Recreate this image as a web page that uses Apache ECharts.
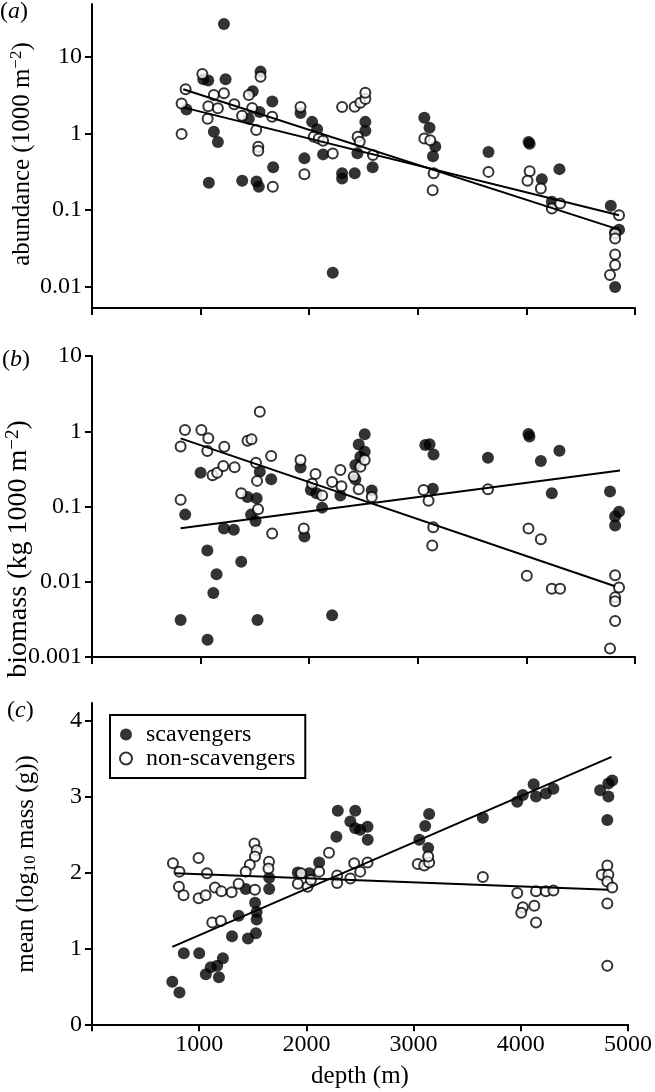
<!DOCTYPE html>
<html>
<head>
<meta charset="utf-8">
<script src="https://cdn.jsdelivr.net/npm/echarts@6.0.0/dist/echarts.min.js"></script>
<style>
html,body{margin:0;padding:0;background:#fff;}
#chart{width:655px;height:1092px;}
</style>
</head>
<body>
<div id="chart"></div>
<script>
// ---- data: [depth (m), value] ----
const abundanceScavengers = [[1215,26.8],[1025,5.1],[1070,4.9],[1230,5.1],[1552,6.4],[1480,3.55],[1660,2.6],[870,2.05],[1122,1.05],[1159,0.77],[1444,1.55],[1543,1.9],[1076,0.226],[1383,0.24],[1515,0.235],[1536,0.20],[1668,0.36],[1956,0.47],[1920,1.84],[2027,1.41],[2073,1.13],[2128,0.53],[2217,0.015],[2303,0.30],[2303,0.257],[2419,0.30],[2584,0.36],[2517,1.41],[2517,1.08],[2444,0.55],[3060,1.6],[3108,1.18],[3161,0.67],[3140,0.50],[3651,0.57],[4020,0.77],[4030,0.73],[4142,0.25],[4304,0.34],[4234,0.127],[4777,0.113],[4853,0.055],[4817,0.051],[4817,0.0098]];
const abundanceNonScavengers = [[1016,5.96],[1552,5.5],[862,3.76],[1122,3.16],[1215,3.33],[1444,3.16],[825,2.46],[1071,2.25],[1159,2.12],[1310,2.39],[1382,1.7],[1475,2.14],[1659,1.64],[1065,1.55],[1512,1.10],[825,0.976],[1531,0.666],[1531,0.59],[1665,0.20],[1920,2.2],[1956,0.292],[2042,0.90],[2088,0.857],[2128,0.80],[2217,0.545],[2303,2.2],[2419,2.22],[2471,2.5],[2517,2.8],[2517,3.38],[2446,0.90],[2465,0.774],[2587,0.52],[3060,0.857],[3115,0.81],[3146,0.30],[3137,0.18],[3651,0.313],[4030,0.32],[4010,0.24],[4133,0.19],[4234,0.104],[4310,0.121],[4853,0.085],[4817,0.049],[4817,0.042],[4817,0.026],[4817,0.019],[4770,0.014]];
const abundanceFitScavengers = [[840,2.18],[4853,0.085]];
const abundanceFitNonScavengers = [[840,3.76],[4853,0.055]];

const biomassScavengers = [[1545,0.29],[1650,0.23],[1920,0.33],[2015,0.166],[1000,0.28],[858,0.078],[1432,0.134],[1516,0.129],[1465,0.078],[1506,0.064],[1215,0.051],[1306,0.049],[1956,0.040],[1062,0.026],[1374,0.0184],[1147,0.0126],[1117,0.0071],[816,0.0031],[1524,0.0031],[1064,0.0017],[2211,0.0036],[2067,0.15],[2119,0.0966],[2287,0.14],[2511,0.91],[2456,0.665],[2511,0.535],[2471,0.46],[2425,0.356],[2425,0.23],[2576,0.163],[3069,0.656],[3108,0.67],[3145,0.49],[3138,0.172],[3646,0.445],[4019,0.92],[4028,0.85],[4133,0.403],[4304,0.55],[4234,0.15],[4770,0.158],[4853,0.085],[4817,0.074],[4817,0.056]];
const biomassNonScavengers = [[1545,1.82],[856,1.04],[1007,1.04],[1071,0.805],[816,0.625],[1062,0.545],[1218,0.623],[1432,0.75],[1469,0.78],[1650,0.47],[1510,0.382],[1520,0.219],[1920,0.415],[2058,0.27],[2027,0.20],[2211,0.212],[2287,0.306],[1110,0.26],[1153,0.28],[1209,0.346],[1313,0.332],[816,0.1225],[1374,0.15],[1529,0.092],[1659,0.0437],[1950,0.051],[2119,0.14],[2297,0.186],[2410,0.25],[2471,0.338],[2511,0.415],[2456,0.17],[2576,0.134],[3053,0.166],[3099,0.119],[3142,0.053],[3133,0.0303],[3646,0.17],[4019,0.051],[4133,0.0368],[4004,0.012],[4234,0.0081],[4310,0.0081],[4817,0.0122],[4853,0.0084],[4817,0.0062],[4817,0.0055],[4817,0.0030],[4770,0.0013]];
const biomassFitScavengers = [[816,0.0515],[4862,0.30]];
const biomassFitNonScavengers = [[816,0.805],[4817,0.0087]];

const massScavengers = [[749,0.56],[816,0.42],[856,0.935],[1000,0.935],[1062,0.66],[1108,0.75],[1168,0.77],[1221,0.87],[1184,0.62],[1306,1.16],[1455,1.13],[1529,1.2],[1368,1.43],[1521,1.6],[1536,1.48],[1536,1.38],[1434,1.78],[1653,1.93],[1653,1.78],[1920,2.0],[2027,1.99],[2119,2.13],[2280,2.47],[2293,2.81],[2456,2.81],[2410,2.67],[2456,2.58],[2502,2.56],[2570,2.6],[2572,2.43],[3053,2.43],[3108,2.61],[3145,2.77],[3136,2.32],[3646,2.72],[3967,2.93],[4019,3.02],[4120,3.16],[4142,3.0],[4234,3.04],[4304,3.1],[4740,3.08],[4817,3.17],[4853,3.21],[4817,3.0],[4807,2.69]];
const massNonScavengers = [[755,2.12],[816,2.01],[994,2.19],[1073,1.99],[811,1.81],[854,1.70],[995,1.66],[1060,1.7],[1147,1.8],[1207,1.75],[1303,1.74],[1368,1.85],[1520,1.77],[1515,2.38],[1536,2.29],[1520,2.21],[1472,2.1],[1434,2.01],[1122,1.34],[1202,1.36],[1651,2.14],[1646,2.05],[1920,1.85],[1950,1.99],[2011,1.81],[2042,1.9],[2119,2.01],[2211,2.26],[2287,1.96],[2287,1.86],[2410,1.92],[2446,2.12],[2502,2.01],[2570,2.13],[3039,2.11],[3099,2.09],[3145,2.13],[3136,2.21],[3646,1.94],[3967,1.73],[4019,1.54],[4004,1.47],[4126,1.56],[4142,1.34],[4142,1.75],[4234,1.75],[4304,1.76],[4807,2.09],[4755,1.97],[4817,1.97],[4807,1.88],[4853,1.8],[4807,1.59],[4807,0.77]];
const massFitScavengers = [[749,1.02],[4846,3.52]];
const massFitNonScavengers = [[771,1.99],[4817,1.77]];

const depthTicks = [0,1000,2000,3000,4000,5000];
const abundanceTicks = [0.01,0.1,1,10];
const biomassTicks = [0.001,0.01,0.1,1,10];
const massTicks = [0,1,2,3,4];
const seriesNames = ['scavengers','non-scavengers'];

// ---- chart ----
const FONT = 'Liberation Serif';
const FS = 24;
const black = '#000';

function fmtLog(v){
  const r = Math.round(Math.log10(v));
  return r >= 0 ? String(Math.pow(10, r)) : Math.pow(10, r).toFixed(-r);
}

function xAxis(gridIndex, showLabels){
  return {
    type:'value', gridIndex, min:depthTicks[0], max:depthTicks[depthTicks.length-1], interval:1000,
    axisLine:{show:true, onZero:false, lineStyle:{color:black, width:2}},
    axisTick:{show:true, length:7, lineStyle:{color:black, width:2}},
    axisLabel:{show:showLabels, color:black, fontFamily:FONT, fontSize:FS, margin:8,
      formatter: v => v === 0 ? '' : String(v)},
    splitLine:{show:false},
    name: showLabels ? 'depth (m)' : '',
    nameLocation:'middle', nameGap:40,
    nameTextStyle:{color:black, fontFamily:FONT, fontSize:25}
  };
}
function yAxis(gridIndex, type, min, max, ticks, formatter){
  return {
    type, gridIndex, min, max, logBase:10,
    axisLine:{show:true, onZero:false, lineStyle:{color:black, width:2}},
    axisTick:{show:true, length:7, lineStyle:{color:black, width:2}, customValues:ticks},
    axisLabel:{color:black, fontFamily:FONT, fontSize:FS, margin:10, customValues:ticks, formatter},
    splitLine:{show:false}, minorTick:{show:false}
  };
}
function scatter(name, data, xi, filled){
  return {
    type:'scatter', name, data, xAxisIndex:xi, yAxisIndex:xi,
    symbol:'circle', symbolSize: filled ? 12 : 10,
    itemStyle: filled ? {color:black} : {color:'#fff', borderColor:black, borderWidth:2},
    emphasis:{disabled:true}, silent:true
  };
}
function fit(data, xi){
  return {
    type:'line', data, xAxisIndex:xi, yAxisIndex:xi, showSymbol:false, symbol:'none',
    lineStyle:{color:black, width:2}, silent:true, emphasis:{disabled:true}
  };
}
function panelLabel(letter, x, y){
  return {
    type:'text', x, y,
    style:{
      text:'{p|(}{i|' + letter + '}{p|)}', verticalAlign:'middle', align:'left',
      rich:{
        p:{fontFamily:FONT, fontSize:FS, fill:black},
        i:{fontFamily:FONT, fontSize:FS, fontStyle:'italic', fill:black}
      }
    }
  };
}
function yTitle(text, x, y, fs){
  const small = Math.round(fs * 0.67);
  return {
    type:'text', x, y, rotation:Math.PI/2,
    style:{
      text, align:'center', verticalAlign:'middle',
      rich:{
        n:{fontFamily:FONT, fontSize:fs, fill:black, lineHeight:fs + 2},
        s:{fontFamily:FONT, fontSize:small, fill:black, verticalAlign:'top', lineHeight:small},
        b:{fontFamily:FONT, fontSize:small, fill:black, verticalAlign:'bottom', lineHeight:small}
      }
    }
  };
}

const chart = echarts.init(document.getElementById('chart'), null, {renderer:'canvas'});
chart.setOption({
  animation:false,
  backgroundColor:'#fff',
  textStyle:{fontFamily:FONT, color:black},
  grid:[
    {left:92, right:20, top:4, height:304},
    {left:92, right:20, top:356, height:301},
    {left:92, right:20, top:703, height:321.3}
  ],
  xAxis:[xAxis(0,false), xAxis(1,false), xAxis(2,true)],
  yAxis:[
    yAxis(0,'log',0.0052,49,abundanceTicks,fmtLog),
    yAxis(1,'log',0.001,10,biomassTicks,fmtLog),
    yAxis(2,'value',0,4.23,massTicks,v => String(v))
  ],
  legend:{
    data:seriesNames, orient:'vertical', left:110, top:715,
    padding:[7.5,10,7.5,9], itemGap:0, itemWidth:30, itemHeight:12,
    borderColor:black, borderWidth:2, selectedMode:false,
    textStyle:{fontFamily:FONT, fontSize:FS, color:black, lineHeight:21}
  },
  series:[
    scatter(seriesNames[0], abundanceScavengers, 0, true),
    scatter(seriesNames[1], abundanceNonScavengers, 0, false),
    fit(abundanceFitScavengers, 0),
    fit(abundanceFitNonScavengers, 0),
    scatter(seriesNames[0], biomassScavengers, 1, true),
    scatter(seriesNames[1], biomassNonScavengers, 1, false),
    fit(biomassFitScavengers, 1),
    fit(biomassFitNonScavengers, 1),
    scatter(seriesNames[0], massScavengers, 2, true),
    scatter(seriesNames[1], massNonScavengers, 2, false),
    fit(massFitScavengers, 2),
    fit(massFitNonScavengers, 2)
  ],
  graphic:[
    panelLabel('a', 0, 12),
    panelLabel('b', 2, 360),
    panelLabel('c', 7, 711),
    yTitle('{n|abundance (1000 m}{s|−2}{n|)}', 22, 154, 25),
    yTitle('{n|biomass (kg 1000 m}{s|−2}{n|)}', 19, 549, 28),
    yTitle('{n|mean (log}{b|10}{n| mass (g))}', 26, 864, 25)
  ]
});
</script>
</body>
</html>
